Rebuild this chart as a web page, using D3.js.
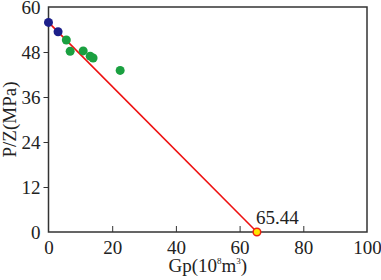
<!DOCTYPE html>
<html>
<head>
<meta charset="utf-8">
<script src="https://cdn.jsdelivr.net/npm/d3@7"></script>
<style>
  body { margin: 0; background: #fff; }
</style>
</head>
<body>
<div id="chart"></div>
<script>
// Early (blue) and later (green) measurements of P/Z vs cumulative gas production
var blueGp = [0, 3.0];
var blueP = [55.9, 53.4];
var greenGp = [5.6, 6.8, 10.9, 13.1, 14.0, 22.5];
var greenP = [51.2, 48.2, 48.3, 46.9, 46.4, 43.1];
// fitted line: from initial P/Z to the intercept
var lineGp = [0, 65.44];
var lineP = [55.9, 0];
var xTicks = [0, 20, 40, 60, 80, 100];
var yTicks = [0, 12, 24, 36, 48, 60];
var interceptLabel = "65.44";

var serif = "'Liberation Serif', 'Times New Roman', 'DejaVu Serif', serif";

var margin = { top: 7, right: 14, bottom: 48, left: 48.5 },
    width = 381 - margin.left - margin.right,
    height = 280 - margin.top - margin.bottom;

var svg = d3.select("#chart")
    .append("svg")
    .attr("width", 381)
    .attr("height", 280)
    .attr("font-family", serif)
    .append("g")
    .attr("transform", "translate(" + margin.left + "," + margin.top + ")");

var x = d3.scaleLinear().domain([0, 100]).range([0, width]);
var y = d3.scaleLinear().domain([0, 60]).range([height, 0]);

// frame
svg.append("rect")
    .attr("width", width)
    .attr("height", height)
    .attr("fill", "none")
    .attr("stroke", "#333")
    .attr("stroke-width", 1.5);

// x axis, ticks pointing inward
var xAxis = svg.append("g")
    .attr("transform", "translate(0," + height + ")")
    .call(d3.axisBottom(x).tickValues(xTicks).tickSizeInner(-6).tickSizeOuter(0).tickPadding(9));
xAxis.attr("font-family", serif).attr("font-size", 19);
xAxis.select(".domain").remove();
xAxis.selectAll("line").attr("stroke", "#333");
xAxis.selectAll("text").attr("fill", "#222");
xAxis.selectAll(".tick").filter(function (d) { return d === 0 || d === 100; }).select("line").remove();

// y axis, ticks pointing outward
var yAxis = svg.append("g")
    .call(d3.axisLeft(y).tickValues(yTicks).tickSizeInner(5).tickSizeOuter(0).tickPadding(3));
yAxis.attr("font-family", serif).attr("font-size", 19);
yAxis.select(".domain").remove();
yAxis.selectAll("line").attr("stroke", "#333");
yAxis.selectAll("text").attr("fill", "#222");
yAxis.selectAll(".tick").filter(function (d) { return d === 0 || d === 60; }).select("line").remove();

// axis titles
svg.append("text")
    .attr("x", width / 2)
    .attr("y", height + 40)
    .attr("text-anchor", "middle")
    .attr("fill", "#222")
    .style("font-size", "19px")
    .html('Gp(10<tspan dy="-8" style="font-size:9px">8</tspan><tspan dy="8">m</tspan><tspan dy="-8" style="font-size:9px">3</tspan><tspan dy="8">)</tspan>');

svg.append("text")
    .attr("transform", "translate(" + (-margin.left + 16) + "," + (height / 2) + ")rotate(-90)")
    .attr("text-anchor", "middle")
    .attr("fill", "#222")
    .style("font-size", "19px")
    .text("P/Z(MPa)");

// fitted line
var line = d3.line()
    .x(function (d) { return x(d[0]); })
    .y(function (d) { return y(d[1]); });
svg.append("path")
    .datum(d3.zip(lineGp, lineP))
    .attr("d", line)
    .attr("fill", "none")
    .attr("stroke", "#ee1111")
    .attr("stroke-width", 1.6);

// green points
svg.selectAll(".green-pt")
    .data(d3.zip(greenGp, greenP))
    .enter()
    .append("circle")
    .attr("class", "green-pt")
    .attr("cx", function (d) { return x(d[0]); })
    .attr("cy", function (d) { return y(d[1]); })
    .attr("r", 4.5)
    .attr("fill", "#1aa040");

// blue points
svg.selectAll(".blue-pt")
    .data(d3.zip(blueGp, blueP))
    .enter()
    .append("circle")
    .attr("class", "blue-pt")
    .attr("cx", function (d) { return x(d[0]); })
    .attr("cy", function (d) { return y(d[1]); })
    .attr("r", 4.5)
    .attr("fill", "#1c1f8a");

// intercept marker and label
svg.append("circle")
    .attr("cx", x(lineGp[1]))
    .attr("cy", y(0))
    .attr("r", 3.8)
    .attr("fill", "#ffe600")
    .attr("stroke", "#ee2211")
    .attr("stroke-width", 1.5);

svg.append("text")
    .attr("x", x(lineGp[1]) - 1)
    .attr("y", y(0) - 8)
    .attr("fill", "#222")
    .style("font-size", "19px")
    .text(interceptLabel);
</script>
</body>
</html>
